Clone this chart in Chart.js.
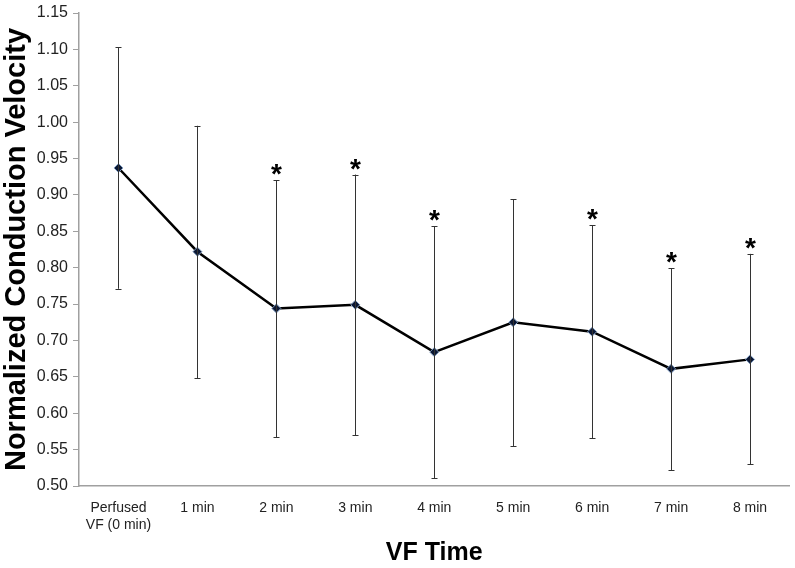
<!DOCTYPE html>
<html>
<head>
<meta charset="utf-8">
<script src="https://cdn.jsdelivr.net/npm/chart.js@4"></script>
<style>
  body { margin: 0; background: #fff; }
  #wrap { width: 795px; height: 568px; }
</style>
</head>
<body>
<div id="wrap"><canvas id="cvChart" width="795" height="568"></canvas></div>
<script>
// VF time points
const categories = [['Perfused', 'VF (0 min)'], '1 min', '2 min', '3 min', '4 min', '5 min', '6 min', '7 min', '8 min'];
// mean normalized conduction velocity
const meanCV = [0.937, 0.822, 0.744, 0.749, 0.684, 0.725, 0.712, 0.661, 0.674];
// error bar ends
const upperCV = [1.103, 0.995, 0.920, 0.928, 0.857, 0.894, 0.858, 0.799, 0.819];
const lowerCV = [0.771, 0.648, 0.567, 0.570, 0.511, 0.555, 0.566, 0.522, 0.530];
// significance marks
const significant = [false, false, true, true, true, false, true, true, true];

const errorBars = {
  id: 'errorBars',
  afterDatasetsDraw(chart) {
    const ctx = chart.ctx;
    const x = chart.scales.x, y = chart.scales.y;
    ctx.save();
    ctx.strokeStyle = '#333';
    ctx.lineWidth = 1;
    meanCV.forEach((v, i) => {
      const px = Math.round(x.getPixelForValue(i)) + 0.5;
      const top = y.getPixelForValue(upperCV[i]);
      const bot = y.getPixelForValue(lowerCV[i]);
      ctx.beginPath();
      ctx.moveTo(px, top); ctx.lineTo(px, bot);
      ctx.moveTo(px - 3, Math.round(top) + 0.5); ctx.lineTo(px + 3, Math.round(top) + 0.5);
      ctx.moveTo(px - 3, Math.round(bot) + 0.5); ctx.lineTo(px + 3, Math.round(bot) + 0.5);
      ctx.stroke();
      if (significant[i]) {
        ctx.fillStyle = '#000';
        ctx.font = 'bold 28px "Liberation Sans", Arial, sans-serif';
        ctx.textAlign = 'center';
        ctx.textBaseline = 'alphabetic';
        ctx.fillText('*', px, top + 3);
      }
    });
    ctx.restore();
  }
};

new Chart(document.getElementById('cvChart'), {
  type: 'line',
  data: {
    labels: categories,
    datasets: [{
      data: meanCV,
      borderColor: '#000',
      borderWidth: 2.5,
      pointStyle: 'rectRot',
      pointRadius: 4.5,
      pointBackgroundColor: '#0b1733',
      pointBorderColor: '#7f9cc0',
      pointBorderWidth: 1,
      tension: 0
    }]
  },
  options: {
    responsive: false,
    animation: false,
    layout: { padding: { top: 2, right: 3, left: 0, bottom: 0 } },
    plugins: { legend: { display: false }, tooltip: { enabled: false } },
    scales: {
      x: {
        offset: true,
        grid: { display: false },
        border: { display: true, color: '#a0a0a0', width: 1.5 },
        ticks: {
          color: '#222',
          font: { family: '"Liberation Sans", Arial, sans-serif', size: 14 },
          maxRotation: 0,
          autoSkip: false,
          padding: 6
        },
        title: {
          display: true,
          text: 'VF Time',
          color: '#000',
          font: { family: '"Liberation Sans", Arial, sans-serif', size: 25, weight: 'bold' },
          padding: { top: 6, bottom: 0 }
        },
        afterFit(scale) { scale.height = 82; }
      },
      y: {
        min: 0.5,
        max: 1.15,
        border: { display: true, color: '#a0a0a0', width: 1.5 },
        grid: { drawOnChartArea: false, drawTicks: true, tickLength: 6, color: '#a0a0a0' },
        ticks: {
          stepSize: 0.05,
          color: '#222',
          padding: 5,
          font: { family: '"Liberation Sans", Arial, sans-serif', size: 16, lineHeight: 1 },
          callback: (v) => Number(v).toFixed(2)
        },
        title: {
          display: true,
          text: 'Normalized Conduction Velocity',
          color: '#000',
          font: { family: '"Liberation Sans", Arial, sans-serif', size: 29, weight: 'bold' },
          padding: { top: 0, bottom: 0 }
        },
        afterFit(scale) { scale.width = 79; }
      }
    }
  },
  plugins: [errorBars]
});
</script>
</body>
</html>
